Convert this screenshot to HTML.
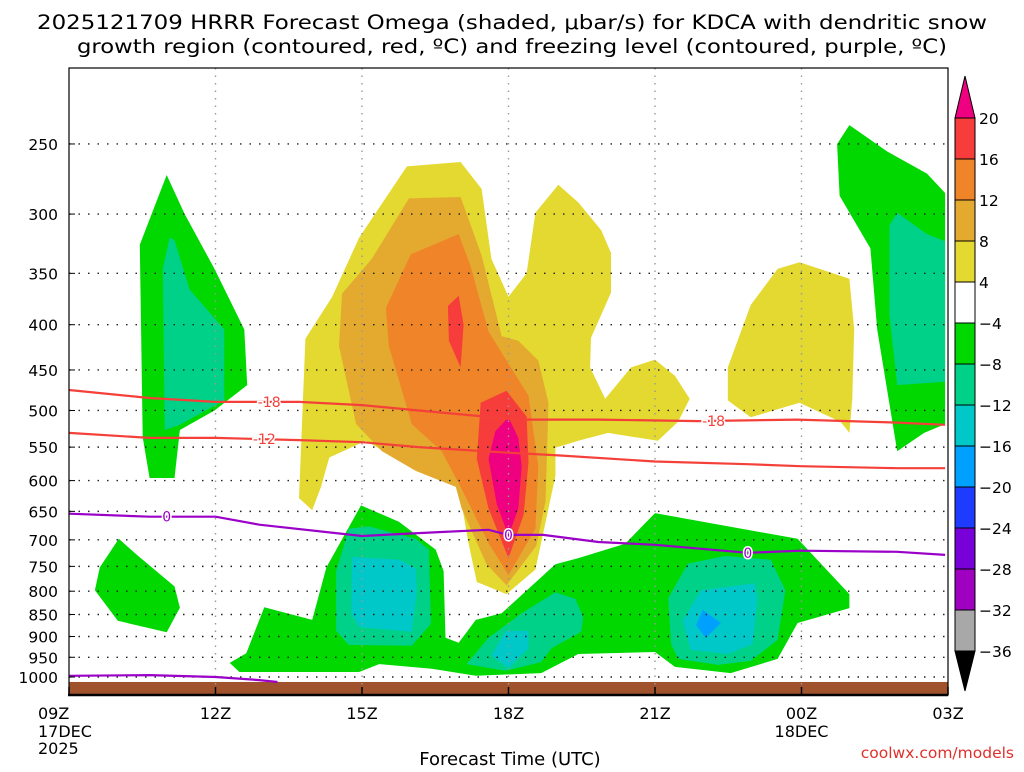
<!DOCTYPE html>
<html><head><meta charset="utf-8">
<style>
html,body{margin:0;padding:0;background:#fff;}
body{width:1024px;height:768px;overflow:hidden;font-family:"DejaVu Sans",sans-serif;}
svg text{font-family:"DejaVu Sans",sans-serif;}
</style></head>
<body>
<svg id="chart" width="1024" height="768" viewBox="0 0 1024 768" xmlns="http://www.w3.org/2000/svg">
<text x="512" y="29" text-anchor="middle" font-size="19.5" textLength="950" lengthAdjust="spacingAndGlyphs">2025121709 HRRR Forecast Omega (shaded, μbar/s) for KDCA with dendritic snow</text>
<text x="512" y="53" text-anchor="middle" font-size="19.5" textLength="870" lengthAdjust="spacingAndGlyphs">growth region (contoured, red, ºC) and freezing level (contoured, purple, ºC)</text>
<g id="shading"></g>
<g id="grid"></g>
<g id="contours"></g>
<g id="axes"></g>
<g id="cbar"></g>
<text x="510" y="765" text-anchor="middle" font-size="18">Forecast Time (UTC)</text>
<text x="1014" y="758" text-anchor="end" font-size="15.5" fill="#e0302c">coolwx.com/models</text>
</svg>
<script>
// ---- axis data ----
const pressureTicks = [250,300,350,400,450,500,550,600,650,700,750,800,850,900,950,1000];
const hourTicks = [0,3,6,9,12,15,18];
const hourLabels = ['09Z','12Z','15Z','18Z','21Z','00Z','03Z'];
const dateLabels = {0:['17DEC','2025'],15:['18DEC']};
const cbarLevels = [20,16,12,8,4,-4,-8,-12,-16,-20,-24,-28,-32,-36];
const cbarColors = ['#f73c3c','#ef8428','#e4aa30','#e4d930','#ffffff','#00d800','#00d188','#00c8c8','#00a0ff','#1e3cff','#7800d8','#a000c0','#a8a8a8'];
// ---- shaded omega regions [hour since 09Z, pressure hPa] ----
const greenLeft = [[2.0,271],[1.45,325],[1.51,536],[1.65,596],[2.16,596],[2.27,526],[2.98,500],[3.65,468],[3.59,405],[2.98,346],[2.37,300]];
const tealLeft = [[2.06,319],[1.92,346],[1.96,526],[2.27,519],[3.18,487],[3.18,405],[2.47,365],[2.16,321]];
const greenSmall = [[1.02,698],[0.63,752],[0.53,798],[1.0,864],[2.0,890],[2.27,835],[2.16,790],[1.39,728]];
const greenLow = [[3.29,964],[3.63,940],[4.0,834],[4.98,862],[5.27,752],[5.98,640],[6.76,668],[7.51,718],[7.67,759],[7.71,903],[7.98,915],[8.33,862],[8.86,847],[9.96,746],[10.43,734],[11.39,707],[12.0,653],[14.92,698],[15.98,806],[15.98,836],[14.92,869],[14.51,954],[13.55,990],[12.41,974],[12.0,937],[10.43,942],[9.67,990],[8.33,997],[7.43,979],[6.35,967],[5.94,987],[3.49,987]];
const tealLow1 = [[5.73,680],[5.47,760],[5.47,887],[5.73,920],[7.02,922],[7.41,871],[7.37,718],[7.1,698],[6.14,676]];
const cyanLow1 = [[5.8,732],[5.78,847],[5.94,878],[7.02,889],[7.12,802],[7.1,754],[6.76,737]];
const tealLow2 = [[8.14,967],[8.59,903],[9.27,847],[9.96,802],[10.37,816],[10.53,856],[10.49,889],[9.88,928],[9.67,962],[8.94,984]];
const cyanLow2 = [[8.65,945],[8.94,887],[9.41,887],[9.41,928],[9.0,977]];
const tealLow3 = [[12.27,815],[12.67,745],[13.43,730],[14.37,737],[14.67,798],[14.51,908],[13.96,959],[13.29,969],[12.47,954],[12.33,918]];
const cyanLow3 = [[12.57,864],[12.94,798],[14.04,784],[14.1,815],[14.0,918],[13.49,942],[12.73,932]];
const blueLow3 = [[12.98,840],[13.35,869],[13.04,903],[12.84,874]];
const yellowMain = [[6.92,265],[8.02,262],[8.45,281],[8.65,337],[9.0,372],[9.37,350],[9.55,299],[10.02,278],[10.43,291],[10.9,313],[11.1,332],[11.1,368],[10.69,414],[10.67,447],[10.98,485],[11.51,447],[12.0,438],[12.41,457],[12.71,485],[12.47,515],[12.06,541],[11.04,530],[10.43,541],[9.96,551],[9.96,593],[9.55,756],[8.96,806],[8.35,781],[8.18,706],[7.98,610],[6.96,578],[6.08,541],[5.33,565],[5.16,610],[4.98,648],[4.71,628],[4.84,415],[5.39,372],[5.94,319]];
const goldMain = [[6.96,288],[8.02,287],[8.45,334],[8.86,412],[9.2,417],[9.61,439],[9.82,490],[9.76,633],[9.57,711],[8.96,788],[8.55,746],[8.04,645],[7.92,610],[7.1,585],[6.41,556],[5.88,518],[5.53,423],[5.59,369],[6.2,337]];
const orangeMain = [[7.0,333],[7.98,316],[8.22,343],[8.59,407],[9.0,443],[9.41,481],[9.61,578],[9.55,680],[9.0,767],[8.59,706],[8.02,610],[7.63,556],[7.02,518],[6.55,423],[6.49,383]];
const redUpper = [[7.98,371],[8.08,400],[8.02,447],[7.78,417],[7.76,381]];
const redLower = [[8.96,475],[9.37,508],[9.41,572],[9.31,656],[9.0,734],[8.59,645],[8.35,567],[8.43,490]];
const magentaCore = [[9.0,509],[9.2,537],[9.27,578],[9.2,645],[9.0,693],[8.76,638],[8.59,567],[8.73,528]];
const yellowRight = [[13.49,447],[13.96,380],[14.51,346],[14.96,340],[15.98,355],[16.08,405],[16.04,485],[15.98,530],[15.8,515],[14.96,490],[13.96,509],[13.49,487]];
const greenRight = [[15.98,238],[15.73,250],[15.78,286],[16.41,328],[16.55,405],[16.96,556],[17.51,530],[17.94,518],[17.94,284],[17.57,270],[16.76,255]];
const tealRight = [[16.96,299],[16.8,309],[16.8,390],[16.96,468],[17.94,464],[17.94,322],[17.57,316]];
// ---- contour lines ----
const dgzMinus18 = [[0,474],[1.65,484],[3.0,489],[4.71,489],[6.0,493],[7.16,500],[9.2,512],[10.84,512],[12.88,514],[14.92,512],[16.96,516],[17.94,519]];
const dgzMinus12 = [[0,530],[1.65,537],[3.0,537],[4.71,540],[6.0,543],[7.16,550],[9.0,558],[10.02,562],[12,571],[13.9,575],[14.98,578],[16.96,581],[17.94,581]];
const freezeUpper = [[0,654],[1.65,659],[3,659],[3.9,673],[6,693],[7.57,686],[8.59,682],[9,691],[9.71,691],[10.84,704],[12,709],[13.9,724],[14.98,720],[16.96,722],[17.94,728]];
const freezeLower = [[0,997],[1.65,995],[3,1000],[3.9,1008],[4.27,1013]];
const labelsMinus18 = [[4.1,'-18'],[13.2,'-18']];
const labelsMinus12 = [[4.0,'-12']];
const labelsZero = [[2.0,'0'],[9.0,'0'],[13.9,'0']];
const groundPressure = 1013;

// ---- axis functions ----
const X0=69, X1=948, Y0=68, Y1=695, HSPAN=18;
function xScale(h){return X0+(X1-X0)*h/HSPAN;}
function yScale(p){return 677-384.5*Math.log(1000/p);}
const NS='http://www.w3.org/2000/svg';
function mk(tag,attrs,parent){const e=document.createElementNS(NS,tag);for(const k in attrs)e.setAttribute(k,attrs[k]);parent.appendChild(e);return e;}
function pts(arr){return arr.map(d=>xScale(d[0]).toFixed(1)+','+yScale(d[1]).toFixed(1)).join(' ');}
function interpP(line,h){for(let i=0;i<line.length-1;i++){const a=line[i],b=line[i+1];if(h>=a[0]&&h<=b[0]){const t=(h-a[0])/(b[0]-a[0]);return a[1]+t*(b[1]-a[1]);}}return line[line.length-1][1];}

const shading=document.getElementById('shading');
const defs=mk('clipPath',{id:'plotclip'},mk('defs',{},document.getElementById('chart')));
mk('rect',{x:X0,y:Y0,width:X1-X0,height:Y1-Y0},defs);
shading.setAttribute('clip-path','url(#plotclip)');
const regions=[
 [greenLeft,'#00d800','green-region-left'],[tealLeft,'#00d188','teal-region-left'],
 [greenSmall,'#00d800','green-region-small'],
 [greenLow,'#00d800','green-region-low'],[tealLow1,'#00d188','teal-region-low-1'],[cyanLow1,'#00c8c8','cyan-region-low-1'],
 [tealLow2,'#00d188','teal-region-low-2'],[cyanLow2,'#00c8c8','cyan-region-low-2'],
 [tealLow3,'#00d188','teal-region-low-3'],[cyanLow3,'#00c8c8','cyan-region-low-3'],[blueLow3,'#00a0ff','blue-region-low-3'],
 [yellowMain,'#e4d930','yellow-region-main'],[goldMain,'#e4aa30','gold-region-main'],[orangeMain,'#ef8428','orange-region-main'],
 [redUpper,'#f73c3c','red-region-upper'],[redLower,'#f73c3c','red-region-lower'],[magentaCore,'#ee0080','magenta-region-core'],
 [yellowRight,'#e4d930','yellow-region-right'],[greenRight,'#00d800','green-region-right'],[tealRight,'#00d188','teal-region-right']
];
regions.forEach(r=>{
 const e=mk('polygon',{points:pts(r[0]),fill:r[1]},shading);
 
 
});
const g=mk('rect',{x:X0,y:yScale(groundPressure),width:X1-X0,height:Y1-yScale(groundPressure),fill:'#a0522d'},shading);



const grid=document.getElementById('grid');
pressureTicks.forEach(p=>{
 const l=mk('line',{x1:X0,x2:X1,y1:yScale(p),y2:yScale(p),stroke:'#222','stroke-width':1.4,'stroke-dasharray':'1.5 8'},grid);
 
 
});
hourTicks.slice(1,-1).forEach(h=>{
 const l=mk('line',{x1:xScale(h),x2:xScale(h),y1:Y0,y2:Y1,stroke:'#999','stroke-width':1.4,'stroke-dasharray':'1.5 6'},grid);
 
 
});

const cont=document.getElementById('contours');
function drawLine(arr,color,name,labels){
 const l=mk('polyline',{points:pts(arr),fill:'none',stroke:color,'stroke-width':2.2},cont);
 
 
 labels.forEach(lb=>{
  const x=xScale(lb[0]),y=yScale(interpP(arr,lb[0]));
  const t=mk('text',{x:x,y:y+5,'text-anchor':'middle','font-size':14,fill:color,stroke:'#fff','stroke-width':3,'paint-order':'stroke'},cont);
  t.textContent=lb[1];
  
  
 });
}
drawLine(dgzMinus18,'#f5403a','contour-minus-18',labelsMinus18);
drawLine(dgzMinus12,'#f5403a','contour-minus-12',labelsMinus12);
drawLine(freezeUpper,'#9a00c8','freezing-level-upper',labelsZero);
drawLine(freezeLower,'#9a00c8','freezing-level-lower',[]);

const ax=document.getElementById('axes');
mk('rect',{x:X0,y:Y0,width:X1-X0,height:Y1-Y0,fill:'none',stroke:'#000','stroke-width':1.2},ax);
mk('line',{x1:X0-1,x2:X1,y1:Y1,y2:Y1,stroke:'#000','stroke-width':2.5},ax);
pressureTicks.forEach(p=>{
 const t=mk('text',{x:58,y:yScale(p)+6,'text-anchor':'end','font-size':15.5},ax);
 t.textContent=p;
 
 
 mk('line',{x1:X0,x2:X0+6,y1:yScale(p),y2:yScale(p),stroke:'#000'},ax);
});
hourTicks.forEach((h,i)=>{
 const x=xScale(h);
 mk('line',{x1:x,x2:x,y1:Y1,y2:Y1-8,stroke:'#000','stroke-width':1.5},ax);
 const t=mk('text',{x:i===0?X0-30:x,y:719,'text-anchor':i===0?'start':'middle','font-size':16},ax);
 if(i===0){t.setAttribute('x',X0-30);t.setAttribute('x',38);}
 t.textContent=hourLabels[i];
 
 
 (dateLabels[h]||[]).forEach((d,j)=>{
  const dt=mk('text',{x:i===0?38:x,y:737+j*17,'text-anchor':i===0?'start':'middle','font-size':16},ax);
  dt.textContent=d;
  
  
 });
});

const cb=document.getElementById('cbar');
const CBX=955,CBW=20,CBT=118,CBH=41;
mk('polygon',{points:`${CBX},${CBT} ${CBX+CBW},${CBT} ${CBX+CBW/2},${CBT-42}`,fill:'#ee0080',stroke:'#000'},cb);
cbarColors.forEach((c,i)=>{
 const r=mk('rect',{x:CBX,y:CBT+i*CBH,width:CBW,height:CBH,fill:c,stroke:'#000','stroke-width':1},cb);
 
 
});
const bot=CBT+cbarColors.length*CBH;
mk('polygon',{points:`${CBX},${bot} ${CBX+CBW},${bot} ${CBX+CBW/2},${bot+40}`,fill:'#000',stroke:'#000'},cb);
cbarLevels.forEach((v,i)=>{
 const t=mk('text',{x:979,y:CBT+i*CBH+6,'font-size':15.5},cb);
 t.textContent=v<0?'\u2212'+Math.abs(v):String(v);
 
 
});
</script>
</body></html>
